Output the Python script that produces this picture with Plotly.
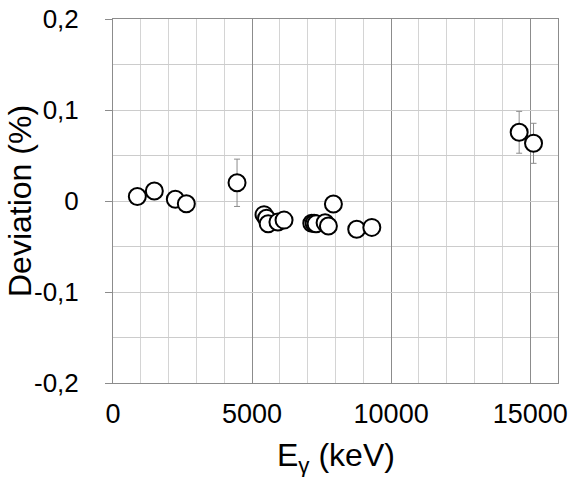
import plotly.graph_objects as go

energy_keV = [875, 1486, 2241, 2637, 4460, 5430, 5520, 5580, 5930, 6150,
              7147, 7230, 7302, 7626, 7745, 7925, 8763, 9306, 14604, 15120]
deviation_pct = [0.005, 0.011, 0.002, -0.003, 0.020, -0.015, -0.019, -0.025, -0.023, -0.021,
                 -0.0245, -0.0245, -0.025, -0.024, -0.0275, -0.0033, -0.031, -0.029, 0.0755, 0.0634]
error_pct = [None, None, None, None, 0.026, None, None, None, None, None,
             None, None, None, None, None, None, None, None, 0.023, 0.022]

x_ticks = [0, 5000, 10000, 15000]
x_tick_labels = ["0", "5000", "10000", "15000"]
y_ticks = [-0.2, -0.1, 0, 0.1, 0.2]
y_tick_labels = ["\u20100,2", "\u20100,1", "0", "0,1", "0,2"]
x_title = "E<sub>γ</sub> (keV)"
y_title = "Deviation (%)"

FONT = "Liberation Sans, Arial, sans-serif"

fig = go.Figure()
fig.add_trace(go.Scatter(
    x=energy_keV, y=deviation_pct, mode="markers",
    marker=dict(size=17, color="white", line=dict(color="black", width=2)),
    error_y=dict(type="data", array=error_pct, visible=True,
                 color="#8c8c8c", thickness=1, width=3),
    showlegend=False,
))

fig.update_layout(
    width=569, height=477,
    margin=dict(l=113, r=11, t=19, b=94, autoexpand=False),
    paper_bgcolor="white", plot_bgcolor="white",
    font=dict(family=FONT, color="black"),
)
fig.update_xaxes(
    automargin=False,
    range=[0, 16000], tickmode="array", tickvals=x_ticks, ticktext=x_tick_labels,
    tickfont=dict(size=27), ticks="", ticklabelstandoff=7,
    showgrid=True, gridcolor="#8c8c8c", gridwidth=1,
    minor=dict(dtick=1000, showgrid=True, gridcolor="#d4d4d4", gridwidth=1),
    showline=True, linecolor="#8c8c8c", linewidth=1, mirror=True,
    zeroline=False,
)
fig.update_yaxes(
    automargin=False,
    range=[-0.2, 0.2], tickmode="array", tickvals=y_ticks, ticktext=y_tick_labels,
    tickfont=dict(size=26), ticks="outside", ticklen=7, tickcolor="#8c8c8c",
    ticklabelstandoff=21,
    showgrid=True, gridcolor="#cccccc", gridwidth=1,
    minor=dict(dtick=0.05, tick0=0, showgrid=True, gridcolor="#cccccc", gridwidth=1),
    showline=True, linecolor="#8c8c8c", linewidth=1, mirror=True,
    zeroline=False,
)
fig.add_annotation(text=y_title, xref="paper", yref="paper", x=0, y=0.5,
                   xanchor="center", yanchor="middle", xshift=-93, textangle=-90,
                   showarrow=False, font=dict(size=32))
fig.add_annotation(text=x_title, xref="paper", yref="paper", x=0.5, y=0,
                   xanchor="center", yanchor="middle", yshift=-74,
                   showarrow=False, font=dict(size=32))

fig.write_html("out.html", config={"displayModeBar": False},
               post_script="document.body.style.margin='0';")
